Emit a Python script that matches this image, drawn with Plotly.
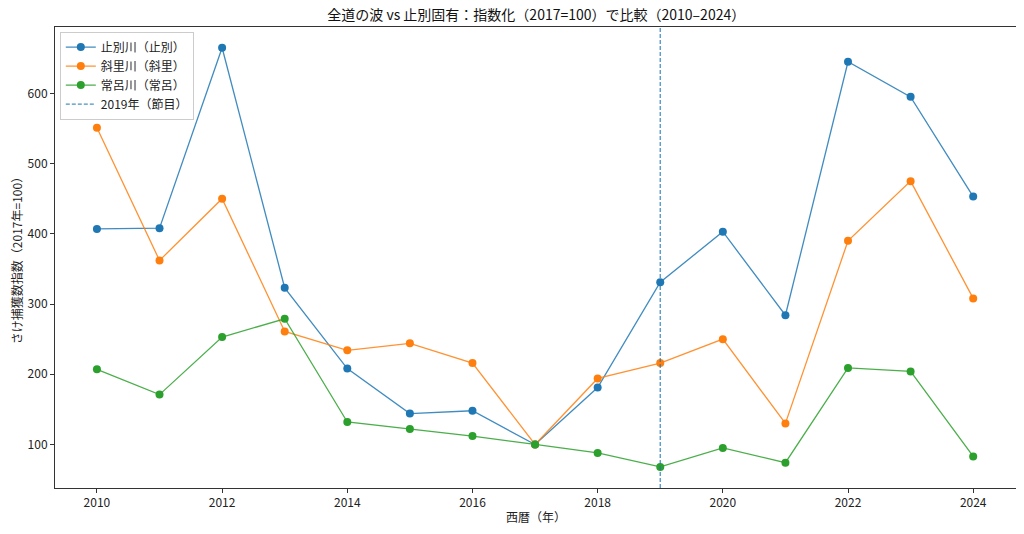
import plotly.graph_objects as go

# 年と指数（2017=100）
years = list(range(2010, 2025))
shibetsu = [407, 408, 665, 323, 208, 144, 148, 100, 181, 331, 403, 284, 645, 595, 453]
shari = [551, 362, 450, 261, 234, 244, 216, 100, 194, 216, 250, 130, 390, 475, 308]
tokoro = [207, 171, 253, 279, 132, 122, 112, 100, 88, 68, 95, 74, 209, 204, 83]
marker_year = 2019

series = [
    ("止別川（止別）", shibetsu, "#1f77b4", "rgba(31,119,180,0.85)"),
    ("斜里川（斜里）", shari, "#ff7f0e", "rgba(255,127,14,0.85)"),
    ("常呂川（常呂）", tokoro, "#2ca02c", "rgba(44,160,44,0.85)"),
]

font = "Noto Sans CJK JP, Noto Sans, sans-serif"

fig = go.Figure()
for name, vals, mcol, lcol in series:
    fig.add_trace(go.Scatter(
        x=years, y=vals, name=name, mode="lines+markers",
        line=dict(color=lcol, width=1.3),
        marker=dict(color=mcol, size=8),
    ))

# 2019年の区切り線
fig.add_vline(
    x=marker_year,
    line=dict(color="rgba(31,119,180,0.8)", width=1.3, dash="4px,2px"),
    showlegend=True, name="2019年（節目）",
)

# ページの body 余白 8px を見込んだサイズ
fig.update_layout(
    width=1010, height=518,
    margin=dict(l=47, r=1, t=19, b=38, autoexpand=False),
    paper_bgcolor="white", plot_bgcolor="white",
    font=dict(family=font, size=12, color="#222"),
    title=dict(text="全道の波 vs 止別固有：指数化（2017=100）で比較（2010–2024）",
               x=0.523, xanchor="center", y=1, yanchor="top", pad=dict(t=2),
               font=dict(size=14, color="#111")),
    showlegend=True,
    legend=dict(x=0.005, y=0.99, xanchor="left", yanchor="top",
                bgcolor="rgba(255,255,255,0.8)", bordercolor="#ccc", borderwidth=1,
                font=dict(size=12), tracegroupgap=0, itemwidth=30),
)

fig.update_xaxes(
    range=[2009.33, 2024.7], tickmode="linear", tick0=2010, dtick=2,
    automargin=False,
    showgrid=False, zeroline=False, showline=True, linecolor="#333", linewidth=1,
    mirror=True, ticks="outside", ticklen=4, tickcolor="#333",
    tickfont=dict(size=12),
    title=dict(text="西暦（年）", font=dict(size=12), standoff=4),
)
fig.update_yaxes(
    range=[38, 694.5], tickmode="array", tickvals=[100, 200, 300, 400, 500, 600],
    automargin=False,
    showgrid=False, zeroline=False, showline=True, linecolor="#333", linewidth=1,
    mirror=True, ticks="outside", ticklen=4, tickcolor="#333",
    tickfont=dict(size=12),
    title=dict(text="さけ捕獲数指数（2017年=100）", font=dict(size=12), standoff=4),
)

fig.write_html("out.html")
